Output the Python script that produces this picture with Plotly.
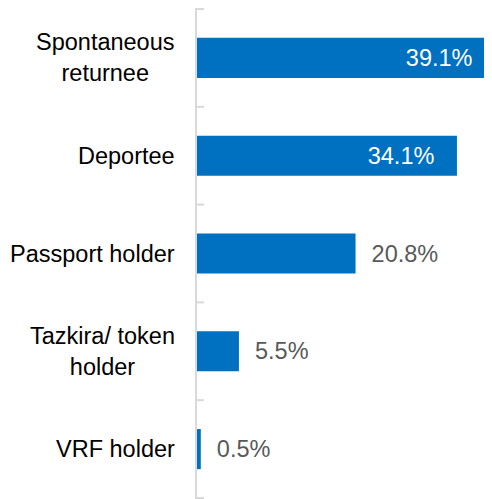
import plotly.graph_objects as go

categories = ["Spontaneous<br>returnee", "Deportee", "Passport holder",
              "Tazkira/ token<br>holder", "VRF holder"]
values = [39.1, 34.1, 20.8, 5.5, 0.5]
labels = ["39.1%", "34.1%", "20.8%", "5.5%", "0.5%"]
inside = [True, True, False, False, False]

BLUE = "#0070C0"
GRID = "#d9d9d9"
FONT = "Liberation Sans, Arial, sans-serif"
FS = 23.5
NB = "\u00a0"

# pad the labels a bit (plotly's own text pad is only 3px)
texts = [lab + NB * 3 if ins else NB * 2 + lab for lab, ins in zip(labels, inside)]

fig = go.Figure(go.Bar(
    x=values,
    y=categories,
    orientation="h",
    marker=dict(color=BLUE, line=dict(width=0)),
    text=texts,
    textposition=["inside" if ins else "outside" for ins in inside],
    insidetextanchor="end",
    insidetextfont=dict(size=FS, color="white", family=FONT),
    outsidetextfont=dict(size=FS, color="#595959", family=FONT),
    constraintext="none",
    textangle=0,
    cliponaxis=True,
    hoverinfo="skip",
))

# category labels: centred lines, right-aligned block (Excel style)
for cat in categories:
    fig.add_annotation(
        x=0, xref="paper", y=cat, yref="y",
        text=cat, showarrow=False, align="center",
        xanchor="right", xshift=-20,
        font=dict(size=FS, color="black", family=FONT),
    )

# crossing ticks at category boundaries
for i in range(len(categories) + 1):
    fig.add_shape(
        type="line", xref="x", yref="y",
        xsizemode="pixel", xanchor=0, x0=-7, x1=7,
        y0=i - 0.5, y1=i - 0.5,
        line=dict(color=GRID, width=2),
    )

# page body has an 8px margin, so the figure is a bit smaller than the window
fig.update_layout(
    width=484, height=491,
    margin=dict(l=189, r=0, t=0, b=0, autoexpand=False),
    paper_bgcolor="white",
    plot_bgcolor="white",
    bargap=0.59,
    showlegend=False,
    font=dict(family=FONT, size=FS, color="black"),
    xaxis=dict(range=[0, 38.7], visible=False, fixedrange=True),
    yaxis=dict(
        categoryorder="array", categoryarray=categories,
        autorange="reversed", automargin=False,
        showline=True, linecolor=GRID, linewidth=2,
        ticks="", showgrid=False, zeroline=False,
        showticklabels=False,
    ),
)

fig.write_html("out.html")
